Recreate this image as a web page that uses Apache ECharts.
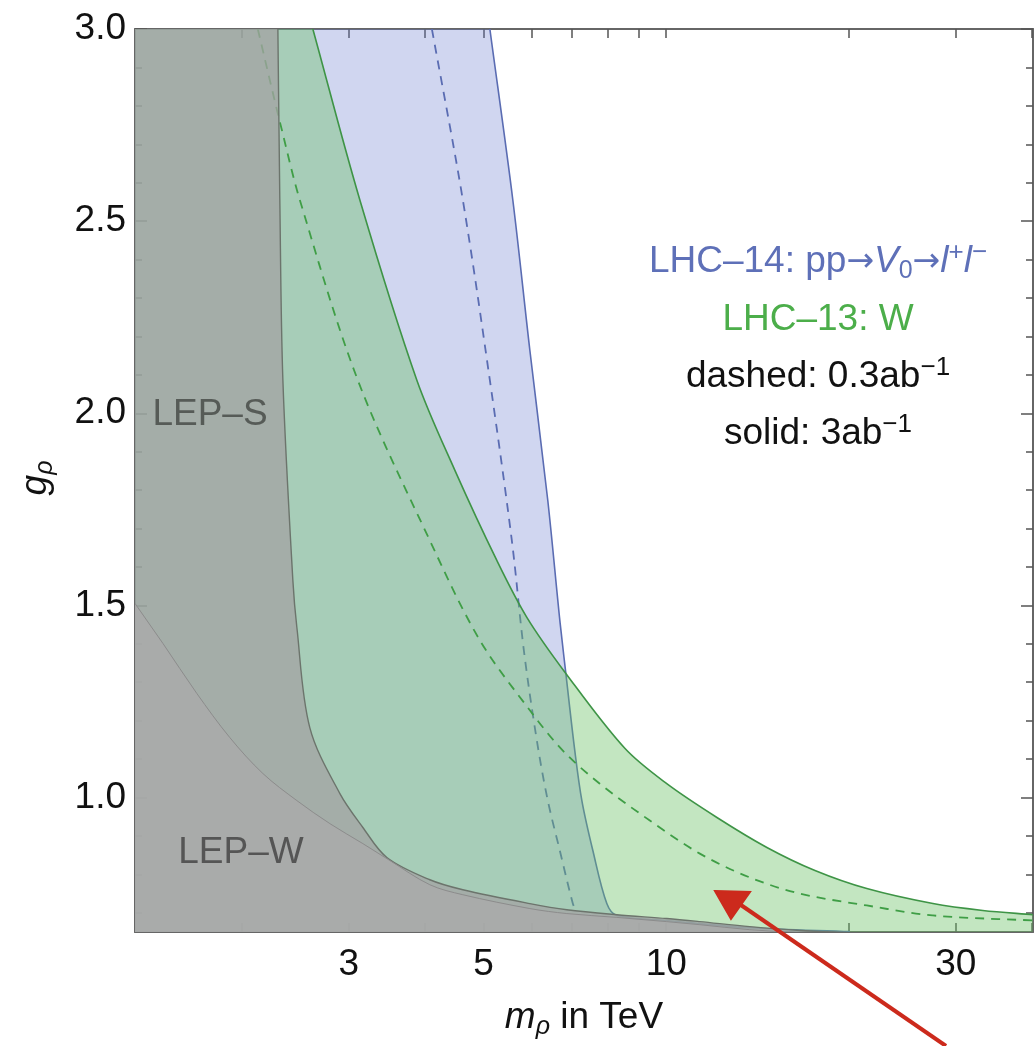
<!DOCTYPE html>
<html><head><meta charset="utf-8">
<script src="https://cdn.jsdelivr.net/npm/echarts@6/dist/echarts.min.js"></script>
<style>html,body{margin:0;padding:0;background:#fff}#c{width:1034px;height:1046px}</style>
</head><body><div id="c"></div>
<script>
// ---- axis ranges and ticks ----
const X_MIN = 1.333, X_MAX = 40.2, Y_MIN = 0.65, Y_MAX = 3.0;
const xTickValues = [2, 3, 4, 5, 6, 7, 8, 9, 10, 20, 30, 40];
const xLabelValues = [3, 5, 10, 30];
const yMajorValues = [1.0, 1.5, 2.0, 2.5, 3.0];
const yMinorValues = [0.7, 0.8, 0.9, 1.1, 1.2, 1.3, 1.4, 1.6, 1.7, 1.8, 1.9, 2.1, 2.2, 2.3, 2.4, 2.6, 2.7, 2.8, 2.9];

// ---- curves: [m_rho (TeV), g_rho] ----
const lhc14Solid = [[5.122,3.0],[5.588,2.555],[5.961,2.164],[6.381,1.773],[6.679,1.461],[6.833,1.323],[7.069,1.122],[7.261,0.992],[7.570,0.862],[7.982,0.724],[8.291,0.693],[10.02,0.680],[13.73,0.661],[20.07,0.651]];
const lhc14Dashed = [[4.111,3.0],[4.623,2.555],[5.122,2.086],[5.567,1.669],[5.827,1.383],[6.122,1.148],[6.381,0.992],[6.679,0.862],[7.016,0.724],[7.100,0.706]];
const lhc13Solid = [[2.617,3.0],[3.128,2.555],[3.883,2.086],[4.484,1.852],[5.259,1.617],[5.893,1.469],[6.833,1.323],[8.546,1.128],[10.02,1.036],[12.12,0.948],[14.65,0.870],[17.58,0.810],[21.40,0.763],[27.50,0.724],[33.23,0.706],[40.18,0.695]];
const lhc13Dashed = [[2.124,3.0],[2.223,2.867],[2.327,2.737],[2.491,2.555],[3.104,2.086],[4.079,1.669],[4.932,1.409],[5.961,1.227],[6.756,1.122],[7.773,1.036],[9.397,0.940],[11.36,0.854],[13.73,0.792],[16.60,0.750],[21.40,0.719],[27.50,0.693],[40.18,0.680]];
const lepS = [[2.292,3.0],[2.309,2.555],[2.336,2.086],[2.426,1.565],[2.463,1.443],[2.587,1.182],[2.900,1.010],[3.164,0.922],[3.465,0.844],[4.079,0.786],[4.623,0.760],[5.961,0.724],[6.858,0.708],[8.291,0.695],[10.02,0.685],[11.36,0.677],[13.73,0.664],[16.60,0.654],[20.07,0.648]];
const lepW = [[1.333,1.505],[1.482,1.401],[1.685,1.271],[1.910,1.156],[2.165,1.0625],[2.463,0.992],[2.792,0.932],[3.164,0.880],[3.505,0.836],[4.079,0.773],[4.623,0.747],[5.961,0.711],[6.858,0.698],[8.291,0.688],[10.02,0.677],[11.36,0.669],[13.73,0.656],[16.60,0.648]];

const FONT = '"Liberation Sans", Arial, Helvetica, sans-serif';

// smooth curve (chord-length cubic spline) through pixel points, as path commands after a moveTo to P[0]
function splinePath(P) {
  const n = P.length, d = [], u = [];
  for (let i = 0; i < n - 1; i++) d.push(Math.hypot(P[i+1][0]-P[i][0], P[i+1][1]-P[i][1]) || 1e-6);
  for (let i = 0; i < n; i++) {
    if (i === 0) u.push([(P[1][0]-P[0][0])/d[0], (P[1][1]-P[0][1])/d[0]]);
    else if (i === n - 1) u.push([(P[i][0]-P[i-1][0])/d[i-1], (P[i][1]-P[i-1][1])/d[i-1]]);
    else { const s = d[i-1] + d[i]; u.push([(P[i+1][0]-P[i-1][0])/s, (P[i+1][1]-P[i-1][1])/s]); }
  }
  let s = '';
  for (let i = 0; i < n - 1; i++) {
    const k = d[i] / 3;
    s += ' C ' + (P[i][0]+u[i][0]*k) + ' ' + (P[i][1]+u[i][1]*k) + ' ' +
         (P[i+1][0]-u[i+1][0]*k) + ' ' + (P[i+1][1]-u[i+1][1]*k) + ' ' + P[i+1][0] + ' ' + P[i+1][1];
  }
  return s;
}

function regionSeries(name, pts, fill, fromTopLeft) {
  return { name, type: 'custom', coordinateSystem: 'cartesian2d', xAxisIndex: 0, yAxisIndex: 0,
    clip: true, silent: true, data: pts, encode: { x: 0, y: 1 },
    renderItem: (params, api) => {
      if (params.dataIndex !== 0) return null;
      const P = pts.map(p => api.coord(p));
      const bl = api.coord([X_MIN, Y_MIN]);
      const last = P[P.length - 1];
      let d;
      if (fromTopLeft) { const tl = api.coord([X_MIN, Y_MAX]); d = 'M ' + tl[0] + ' ' + tl[1] + ' L ' + P[0][0] + ' ' + P[0][1]; }
      else d = 'M ' + P[0][0] + ' ' + P[0][1];
      d += splinePath(P) + ' L ' + last[0] + ' ' + bl[1] + ' L ' + bl[0] + ' ' + bl[1] + ' Z';
      return { type: 'path', shape: { pathData: d }, style: { fill: fill, stroke: 'none' } };
    } };
}
function curveSeries(name, pts, stroke, dashed, width) {
  return { name, type: 'custom', coordinateSystem: 'cartesian2d', xAxisIndex: 0, yAxisIndex: 0,
    clip: true, silent: true, data: pts, encode: { x: 0, y: 1 },
    renderItem: (params, api) => {
      if (params.dataIndex !== 0) return null;
      const P = pts.map(p => api.coord(p));
      const d = 'M ' + P[0][0] + ' ' + P[0][1] + splinePath(P);
      return { type: 'path', shape: { pathData: d },
        style: { fill: 'none', stroke: stroke, lineWidth: width, lineDash: dashed ? [9, 7] : null } };
    } };
}

const frameLine = { show: true, lineStyle: { color: '#666', width: 2 } };
function xAx(pos, labels) {
  return { type: 'log', logBase: 10, min: X_MIN, max: X_MAX, position: pos,
    axisLine: frameLine, splitLine: { show: false },
    axisTick: { show: true, inside: true, length: 9, customValues: xTickValues, lineStyle: { color: '#555', width: 1.5 } },
    axisLabel: labels ? { show: true, customValues: xLabelValues, fontSize: 37, fontFamily: FONT, color: '#111', margin: 14 } : { show: false } };
}
function yAx(pos, major, labels) {
  return { type: 'value', min: Y_MIN, max: Y_MAX, position: pos,
    axisLine: major ? frameLine : { show: false }, splitLine: { show: false },
    axisTick: { show: true, inside: true, length: major ? 12 : 7, customValues: major ? yMajorValues : yMinorValues, lineStyle: { color: '#555', width: 1.5 } },
    axisLabel: labels ? { show: true, customValues: yMajorValues, fontSize: 37, fontFamily: FONT, color: '#111', margin: 9,
      formatter: v => Number(v).toFixed(1) } : { show: false } };
}

const TXT = { fontFamily: FONT, fontSize: 37, lineHeight: 44, verticalAlign: 'middle' };
const ARR = { fontFamily: '"DejaVu Sans", sans-serif', fontSize: 33, lineHeight: 44, verticalAlign: 'middle' };
const SUP = { fontFamily: FONT, fontSize: 26, lineHeight: 30, verticalAlign: 'top' };
const SUB = { fontFamily: FONT, fontSize: 25, lineHeight: 25, verticalAlign: 'bottom' };
function rich(fill) {
  return {
    n: Object.assign({ fill }, TXT),
    i: Object.assign({ fill, fontStyle: 'italic' }, TXT),
    a: Object.assign({ fill }, ARR),
    sup: Object.assign({ fill }, SUP),
    sub: Object.assign({ fill }, SUB),
    subi: Object.assign({ fill, fontStyle: 'italic' }, SUB)
  };
}
function label(x, y, text, fill, rot) {
  return { type: 'text', x, y, z: 100, rotation: rot || 0,
    style: { text, rich: rich(fill), fill, fontFamily: FONT, fontSize: 37, align: 'center', verticalAlign: 'middle' } };
}

const chart = echarts.init(document.getElementById('c'));
chart.setOption({
  animation: false,
  backgroundColor: '#fff',
  grid: { left: 135, right: 1, top: 29, bottom: 114 },
  xAxis: [xAx('bottom', true), xAx('top', false)],
  yAxis: [yAx('left', true, true), yAx('left', false, false), yAx('right', true, false), yAx('right', false, false)],
  series: [
    regionSeries('LHC-14 3ab area', lhc14Solid, 'rgba(98,118,205,0.30)', true),
    curveSeries('LHC-14 dashed', lhc14Dashed, '#5a6cb2', true, 1.8),
    curveSeries('LHC-14 solid', lhc14Solid, '#5a6cb2', false, 1.6),
    regionSeries('LHC-13 3ab area', lhc13Solid, 'rgba(105,192,100,0.40)', true),
    curveSeries('LHC-13 dashed', lhc13Dashed, '#3f9e46', true, 1.8),
    curveSeries('LHC-13 solid', lhc13Solid, '#3e9446', false, 1.6),
    regionSeries('LEP-S area', lepS, 'rgba(163,163,163,0.76)', true),
    regionSeries('LEP-W area', lepW, 'rgba(170,170,170,0.80)', false),
    curveSeries('LEP-S', lepS, '#6c746c', false, 1.4),
    curveSeries('LEP-W', lepW, '#8c8c8c', false, 1.0)
  ],
  graphic: [
    label(818, 262, '{n|LHC–14: pp}{a|→}{i|V}{sub|0}{a|→}{i|l}{sup|+}{i|l}{sup|−}', '#5e70b8'),
    label(818, 320, '{n|LHC–13: W}', '#4cae4a'),
    label(818, 377, '{n|dashed: 0.3ab}{sup|−1}', '#111'),
    label(818, 434, '{n|solid: 3ab}{sup|−1}', '#111'),
    label(210, 415, '{n|LEP–S}', '#565b57'),
    label(241, 853, '{n|LEP–W}', '#555'),
    label(584, 1018, '{i|m}{subi|ρ}{n| in TeV}', '#111'),
    label(36, 478, '{i|g}{subi|ρ}', '#111', Math.PI / 2),
    { type: 'polyline', z: 101, shape: { points: [[946, 1046], [738, 903]] }, style: { stroke: '#cc2a1c', lineWidth: 4, fill: null } },
    { type: 'polygon', z: 101, shape: { points: [[715, 891], [750, 892], [731, 919]] }, style: { fill: '#cc2a1c', stroke: '#cc2a1c', lineWidth: 2 } }
  ]
});
</script></body></html>
